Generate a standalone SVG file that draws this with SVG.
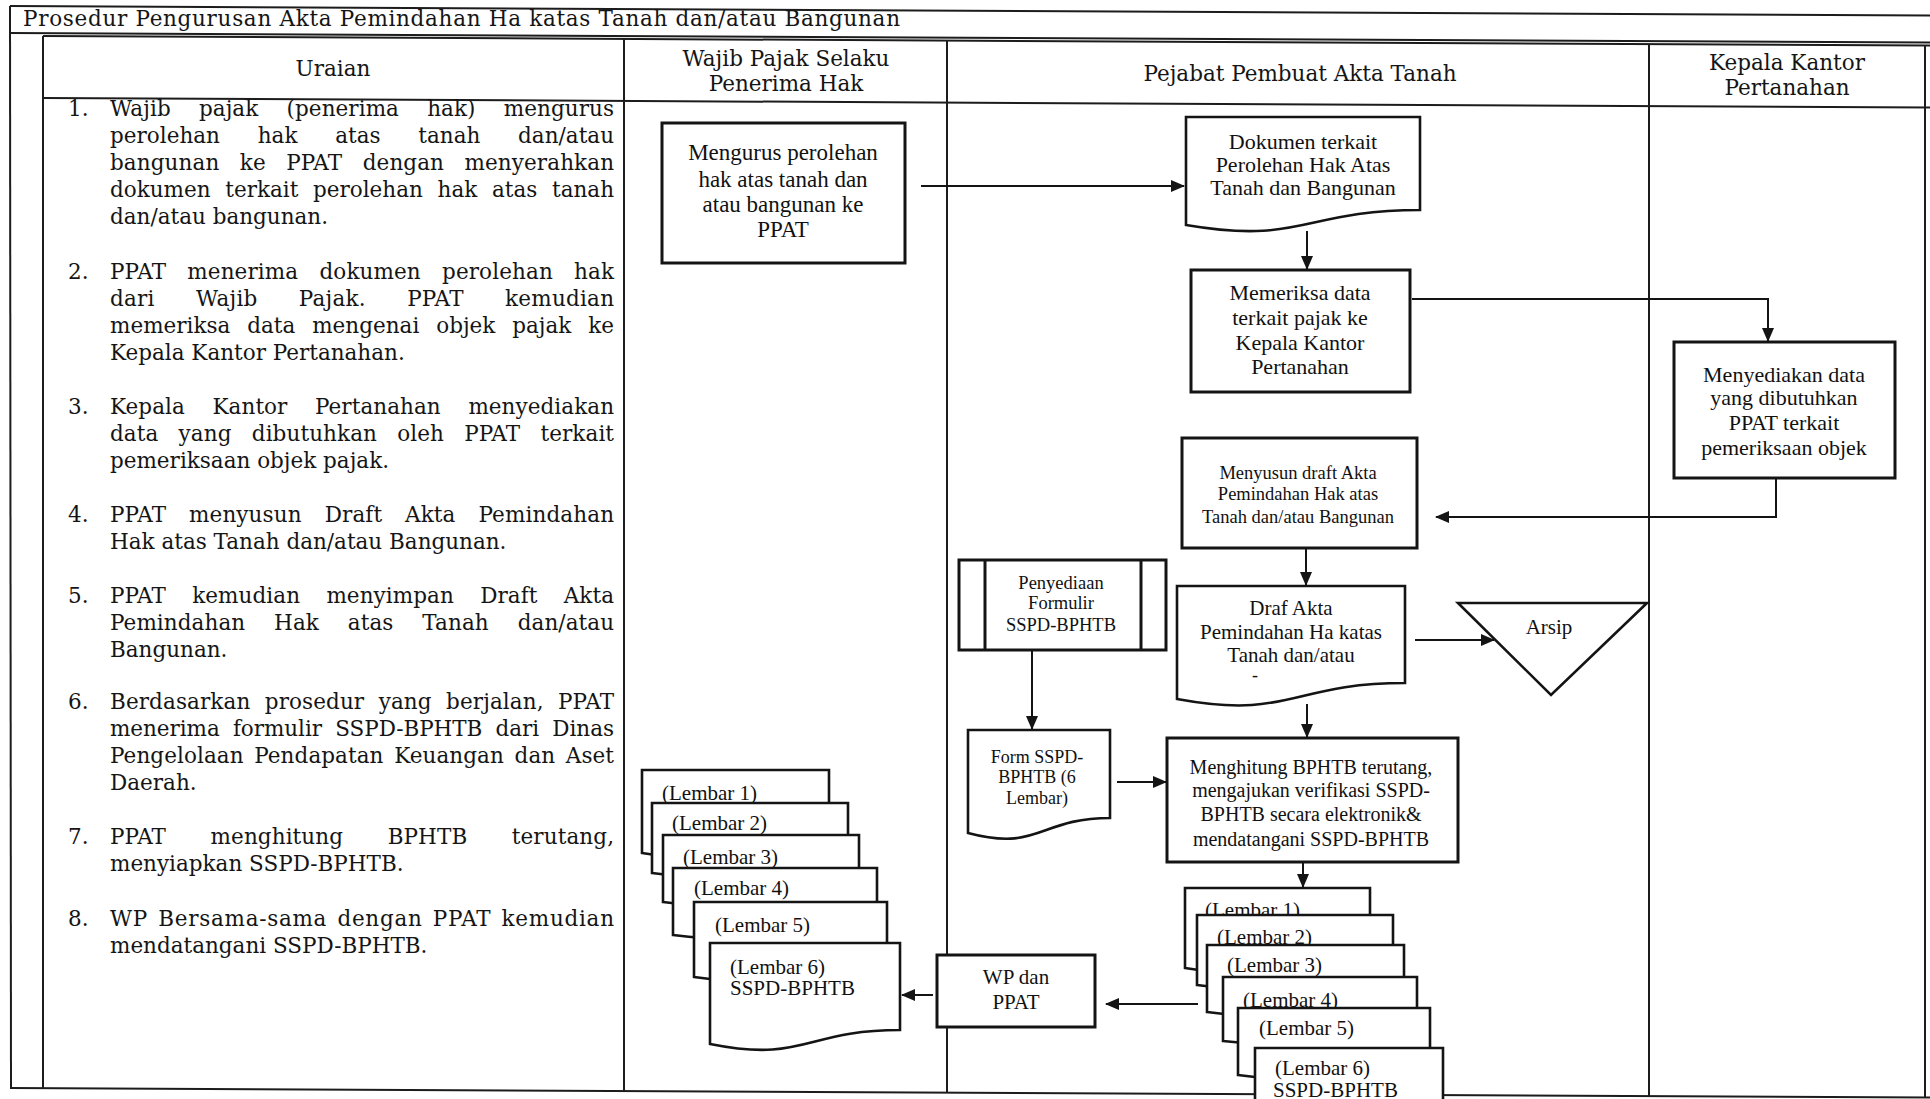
<svg xmlns="http://www.w3.org/2000/svg" width="1930" height="1099" viewBox="0 0 1930 1099">
<style>
.tl{stroke:#1c1c1c;stroke-width:2;fill:none}
.nd{fill:#fff;stroke:#141414;stroke-width:3}
.dc{fill:#fff;stroke:#141414;stroke-width:2.6}
.cn{stroke:#141414;stroke-width:2;fill:none;marker-end:url(#ah)}
.hd{font-family:"DejaVu Serif",serif;font-size:21.5px;fill:#151515;text-anchor:middle}
.bd{font-family:"DejaVu Serif",serif;font-size:21.5px;fill:#151515}
.lb{font-family:"Liberation Serif",serif;fill:#111;text-anchor:middle}
.ls{font-family:"Liberation Serif",serif;fill:#111;font-size:21px}
</style>
<defs>
<marker id="ah" markerWidth="14" markerHeight="12" refX="13" refY="6" orient="auto" markerUnits="userSpaceOnUse"><path d="M0,0 L14,6 L0,12 Z" fill="#141414"/></marker>
</defs>
<rect width="1930" height="1099" fill="#fff"/>

<g id="table">
<line class="tl" x1="10" y1="6" x2="1930" y2="15.5"/>
<line class="tl" x1="10" y1="33" x2="1930" y2="42.5"/>
<line class="tl" x1="43" y1="36" x2="1930" y2="45.5"/>
<line class="tl" x1="43" y1="98" x2="1930" y2="107.5"/>
<line class="tl" x1="10" y1="1088" x2="1930" y2="1097.5"/>
<line class="tl" x1="10" y1="6" x2="11" y2="1088"/>
<line class="tl" x1="43" y1="36" x2="43" y2="1088"/>
<line class="tl" x1="624" y1="39" x2="624" y2="1091"/>
<line class="tl" x1="947" y1="40.7" x2="947" y2="1092.7"/>
<line class="tl" x1="1649" y1="44" x2="1649" y2="1096"/>
<line class="tl" x1="1925" y1="45.5" x2="1925" y2="1097.5"/>
<text class="bd" x="23" y="26" font-size="20" textLength="877" lengthAdjust="spacing">Prosedur Pengurusan Akta Pemindahan Ha katas Tanah dan/atau Bangunan</text>
<text class="hd" x="333" y="76">Uraian</text>
<text class="hd" x="786" y="66">Wajib Pajak Selaku</text>
<text class="hd" x="786" y="91">Penerima Hak</text>
<text class="hd" x="1300" y="81">Pejabat Pembuat Akta Tanah</text>
<text class="hd" x="1787" y="70">Kepala Kantor</text>
<text class="hd" x="1787" y="95">Pertanahan</text>
</g>

<g id="uraian">
<text class="bd" x="68" y="116">1.</text>
<text class="bd" x="110" y="116" textLength="504" lengthAdjust="spacing" word-spacing="21.3">Wajib pajak (penerima hak) mengurus</text>
<text class="bd" x="110" y="143" textLength="504" lengthAdjust="spacing" word-spacing="30.9">perolehan hak atas tanah dan/atau</text>
<text class="bd" x="110" y="170" textLength="504" lengthAdjust="spacing" word-spacing="13.5">bangunan ke PPAT dengan menyerahkan</text>
<text class="bd" x="110" y="197" textLength="504" lengthAdjust="spacing" word-spacing="7.9">dokumen terkait perolehan hak atas tanah</text>
<text class="bd" x="110" y="224">dan/atau bangunan.</text>

<text class="bd" x="68" y="279">2.</text>
<text class="bd" x="110" y="279" textLength="504" lengthAdjust="spacing" word-spacing="14.3">PPAT menerima dokumen perolehan hak</text>
<text class="bd" x="110" y="306" textLength="504" lengthAdjust="spacing" word-spacing="34.2">dari Wajib Pajak. PPAT kemudian</text>
<text class="bd" x="110" y="333" textLength="504" lengthAdjust="spacing" word-spacing="10">memeriksa data mengenai objek pajak ke</text>
<text class="bd" x="110" y="360">Kepala Kantor Pertanahan.</text>

<text class="bd" x="68" y="414">3.</text>
<text class="bd" x="110" y="414" textLength="504" lengthAdjust="spacing" word-spacing="20.7">Kepala Kantor Pertanahan menyediakan</text>
<text class="bd" x="110" y="441" textLength="504" lengthAdjust="spacing" word-spacing="13.3">data yang dibutuhkan oleh PPAT terkait</text>
<text class="bd" x="110" y="468">pemeriksaan objek pajak.</text>

<text class="bd" x="68" y="522">4.</text>
<text class="bd" x="110" y="522" textLength="504" lengthAdjust="spacing" word-spacing="16">PPAT menyusun Draft Akta Pemindahan</text>
<text class="bd" x="110" y="549">Hak atas Tanah dan/atau Bangunan.</text>

<text class="bd" x="68" y="603">5.</text>
<text class="bd" x="110" y="603" textLength="504" lengthAdjust="spacing" word-spacing="19.3">PPAT kemudian menyimpan Draft Akta</text>
<text class="bd" x="110" y="630" textLength="504" lengthAdjust="spacing" word-spacing="22">Pemindahan Hak atas Tanah dan/atau</text>
<text class="bd" x="110" y="657">Bangunan.</text>

<text class="bd" x="68" y="709">6.</text>
<text class="bd" x="110" y="709" textLength="504" lengthAdjust="spacing" word-spacing="7.5">Berdasarkan prosedur yang berjalan, PPAT</text>
<text class="bd" x="110" y="736" textLength="504" lengthAdjust="spacing" word-spacing="6.4">menerima formulir SSPD-BPHTB dari Dinas</text>
<text class="bd" x="110" y="763" textLength="504" lengthAdjust="spacing" word-spacing="3.7">Pengelolaan Pendapatan Keuangan dan Aset</text>
<text class="bd" x="110" y="790">Daerah.</text>

<text class="bd" x="68" y="844">7.</text>
<text class="bd" x="110" y="844" textLength="504" lengthAdjust="spacing" word-spacing="37.6">PPAT menghitung BPHTB terutang,</text>
<text class="bd" x="110" y="871">menyiapkan SSPD-BPHTB.</text>

<text class="bd" x="68" y="926">8.</text>
<text class="bd" x="110" y="926" textLength="504" lengthAdjust="spacing" word-spacing="2.7">WP Bersama-sama dengan PPAT kemudian</text>
<text class="bd" x="110" y="953">mendatangani SSPD-BPHTB.</text>
</g>

<g id="n-mengurus">
<rect class="nd" x="662" y="123" width="243" height="140"/>
<text class="lb" font-size="23" x="783" y="160">Mengurus perolehan</text>
<text class="lb" font-size="23" x="783" y="187">hak atas tanah dan</text>
<text class="lb" font-size="23" x="783" y="212">atau bangunan ke</text>
<text class="lb" font-size="23" x="783" y="237">PPAT</text>
</g>

<g id="n-dokumen">
<path class="dc" d="M1186,117 H1420 V210 C1303,210 1303,245 1186,225 Z"/>
<text class="lb" font-size="22" x="1303" y="149">Dokumen terkait</text>
<text class="lb" font-size="22" x="1303" y="172">Perolehan Hak Atas</text>
<text class="lb" font-size="22" x="1303" y="195">Tanah dan Bangunan</text>
</g>

<g id="n-memeriksa">
<rect class="nd" x="1191" y="270" width="219" height="122"/>
<text class="lb" font-size="22" x="1300" y="300">Memeriksa data</text>
<text class="lb" font-size="22" x="1300" y="325">terkait pajak ke</text>
<text class="lb" font-size="22" x="1300" y="350">Kepala Kantor</text>
<text class="lb" font-size="22" x="1300" y="374">Pertanahan</text>
</g>

<g id="n-menyediakan">
<rect class="nd" x="1674" y="342" width="221" height="136"/>
<text class="lb" font-size="22" x="1784" y="382">Menyediakan data</text>
<text class="lb" font-size="22" x="1784" y="405">yang dibutuhkan</text>
<text class="lb" font-size="22" x="1784" y="430">PPAT terkait</text>
<text class="lb" font-size="22" x="1784" y="455">pemeriksaan objek</text>
</g>

<g id="n-menyusun">
<rect class="nd" x="1182" y="438" width="235" height="110"/>
<text class="lb" font-size="18.5" x="1298" y="479">Menyusun draft Akta</text>
<text class="lb" font-size="18.5" x="1298" y="500">Pemindahan Hak atas</text>
<text class="lb" font-size="18.5" x="1298" y="523">Tanah dan/atau Bangunan</text>
</g>

<g id="n-draf">
<path class="dc" d="M1177,586 H1405 V683 C1291,683 1291,720 1177,699 Z"/>
<text class="lb" font-size="21" x="1291" y="615">Draf Akta</text>
<text class="lb" font-size="21" x="1291" y="639">Pemindahan Ha katas</text>
<text class="lb" font-size="21" x="1291" y="662">Tanah dan/atau</text>
<text class="lb" font-size="18" x="1255" y="681">-</text>
</g>

<g id="n-arsip">
<polygon class="dc" points="1458,603 1647,603 1551,695"/>
<text class="lb" font-size="21" x="1549" y="634">Arsip</text>
</g>

<g id="n-penyediaan">
<rect class="nd" x="959" y="560" width="207" height="90"/>
<line x1="985" y1="560" x2="985" y2="650" stroke="#141414" stroke-width="3"/>
<line x1="1141" y1="560" x2="1141" y2="650" stroke="#141414" stroke-width="3"/>
<text class="lb" font-size="18.5" x="1061" y="589">Penyediaan</text>
<text class="lb" font-size="18.5" x="1061" y="609">Formulir</text>
<text class="lb" font-size="18.5" x="1061" y="631">SSPD-BPHTB</text>
</g>

<g id="n-form">
<path class="dc" d="M968,730 H1110 V818 C1039,818 1039,852 968,833 Z"/>
<text class="lb" font-size="18" x="1037" y="763">Form SSPD-</text>
<text class="lb" font-size="18" x="1037" y="783">BPHTB (6</text>
<text class="lb" font-size="18" x="1037" y="804">Lembar)</text>
</g>

<g id="n-menghitung">
<rect class="nd" x="1167" y="738" width="291" height="124"/>
<text class="lb" font-size="20" x="1311" y="774">Menghitung BPHTB terutang,</text>
<text class="lb" font-size="20" x="1311" y="797">mengajukan verifikasi SSPD-</text>
<text class="lb" font-size="20" x="1311" y="821">BPHTB secara elektronik&amp;</text>
<text class="lb" font-size="20" x="1311" y="846">mendatangani SSPD-BPHTB</text>
</g>

<g id="n-wp-ppat">
<rect class="nd" x="937" y="955" width="158" height="72"/>
<text class="lb" font-size="21" x="1016" y="984">WP dan</text>
<text class="lb" font-size="21" x="1016" y="1009">PPAT</text>
</g>

<g id="n-lembar-wp">
<path class="dc" d="M642,770 H829 V841 C735,841 735,868 642,853 Z"/>
<text class="ls" x="662" y="800">(Lembar 1)</text>
<path class="dc" d="M652,803 H848 V863 C750,863 750,886 652,873 Z"/>
<text class="ls" x="672" y="830">(Lembar 2)</text>
<path class="dc" d="M663,835 H859 V893 C761,893 761,915 663,902 Z"/>
<text class="ls" x="683" y="864">(Lembar 3)</text>
<path class="dc" d="M673,868 H877 V926 C775,926 775,948 673,935 Z"/>
<text class="ls" x="694" y="895">(Lembar 4)</text>
<path class="dc" d="M694,902 H887 V966 C790,966 790,991 694,977 Z"/>
<text class="ls" x="715" y="932">(Lembar 5)</text>
<path class="dc" d="M710,943 H900 V1030 C805,1030 805,1063 710,1044 Z"/>
<text class="ls" x="730" y="974">(Lembar 6)</text>
<text class="ls" x="730" y="995">SSPD-BPHTB</text>
</g>

<g id="n-lembar-ppat">
<path class="dc" d="M1185,888 H1370 V957 C1277,957 1277,983 1185,968 Z"/>
<text class="ls" x="1205" y="917">(Lembar 1)</text>
<path class="dc" d="M1197,915 H1393 V975 C1295,975 1295,998 1197,985 Z"/>
<text class="ls" x="1217" y="944">(Lembar 2)</text>
<path class="dc" d="M1207,945 H1404 V1003 C1305,1003 1305,1025 1207,1012 Z"/>
<text class="ls" x="1227" y="972">(Lembar 3)</text>
<path class="dc" d="M1223,977 H1417 V1032 C1320,1032 1320,1052 1223,1041 Z"/>
<text class="ls" x="1243" y="1007">(Lembar 4)</text>
<path class="dc" d="M1238,1008 H1430 V1066 C1334,1066 1334,1088 1238,1075 Z"/>
<text class="ls" x="1259" y="1035">(Lembar 5)</text>
<path class="dc" d="M1255,1048 H1443 V1135 C1349,1135 1349,1168 1255,1149 Z"/>
<text class="ls" x="1275" y="1075">(Lembar 6)</text>
<text class="ls" x="1273" y="1097">SSPD-BPHTB</text>
</g>

<g id="connectors">
<line class="cn" x1="921" y1="186" x2="1184" y2="186"/>
<line class="cn" x1="1307" y1="231" x2="1307" y2="269"/>
<polyline class="cn" points="1412,299 1768,299 1768,341"/>
<polyline class="cn" points="1776,478 1776,517 1436,517"/>
<line class="cn" x1="1306" y1="549" x2="1306" y2="585"/>
<line class="cn" x1="1415" y1="640" x2="1494" y2="640"/>
<line class="cn" x1="1307" y1="704" x2="1307" y2="737"/>
<line class="cn" x1="1032" y1="650" x2="1032" y2="729"/>
<line class="cn" x1="1117" y1="782" x2="1166" y2="782"/>
<line class="cn" x1="1303" y1="862" x2="1303" y2="887"/>
<line class="cn" x1="1198" y1="1004" x2="1106" y2="1004"/>
<line class="cn" x1="933" y1="995" x2="902" y2="995"/>
</g>
</svg>
